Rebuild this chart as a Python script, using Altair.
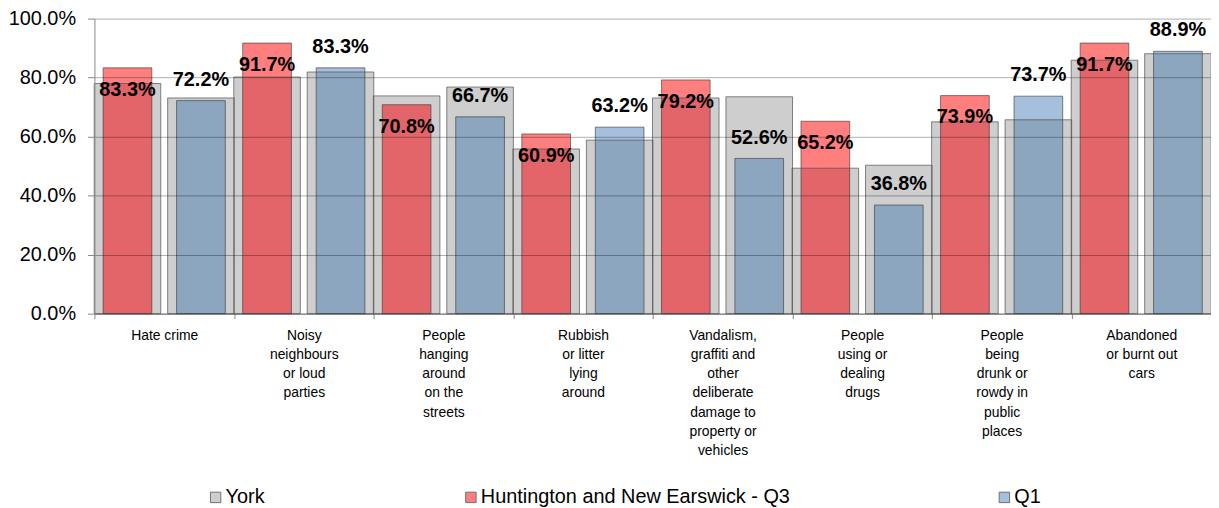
import altair as alt
import pandas as pd

# ---- data ----
categories = [
    "Hate crime",
    "Noisy|neighbours|or loud|parties",
    "People|hanging|around|on the|streets",
    "Rubbish|or litter|lying|around",
    "Vandalism,|graffiti and|other|deliberate|damage to|property or|vehicles",
    "People|using or|dealing|drugs",
    "People|being|drunk or|rowdy in|public|places",
    "Abandoned|or burnt out|cars",
]
q3_values = [83.3, 91.7, 70.8, 60.9, 79.2, 65.2, 73.9, 91.7]
q1_values = [72.2, 83.3, 66.7, 63.2, 52.6, 36.8, 73.7, 88.9]
york_behind_q3 = [78.0, 80.2, 73.8, 55.8, 73.1, 49.3, 65.0, 85.9]
york_behind_q1 = [73.1, 81.9, 76.8, 58.8, 73.5, 50.3, 65.7, 88.1]

york_name = "York"
q3_name = "Huntington and New Earswick - Q3"
q1_name = "Q1"

rows = []
for i, c in enumerate(categories):
    rows.append(dict(cat=c, slot="a", series=q3_name, value=q3_values[i], york=york_behind_q3[i]))
    rows.append(dict(cat=c, slot="b", series=q1_name, value=q1_values[i], york=york_behind_q1[i]))
df = pd.DataFrame(rows)

FONT = "Liberation Sans"

x_enc = alt.X(
    "cat:N",
    sort=categories,
    scale=alt.Scale(paddingInner=0, paddingOuter=0),
    axis=alt.Axis(
        title=None,
        labelExpr="split(datum.label, '|')",
        labelAngle=0,
        labelFont=FONT,
        labelFontSize=14,
        labelColor="#000",
        labelLineHeight=19.3,
        labelBaseline="top",
        labelPadding=10,
        labelLimit=200,
        tickBand="extent",
        tickSize=5,
        tickColor="#888",
        domainColor="#888",
        grid=False,
    ),
)
xoff_enc = alt.XOffset("slot:N", scale=alt.Scale(domain=["a", "b"], paddingInner=0.1, paddingOuter=0))

y_scale = alt.Scale(domain=[0, 100], nice=False)
y_axis = alt.Axis(
    title=None,
    values=[0, 20, 40, 60, 80, 100],
    labelExpr="format(datum.value, '.1f') + '%'",
    labelFont=FONT,
    labelFontSize=20,
    labelColor="#000",
    labelPadding=12,
    tickSize=7,
    tickColor="#888",
    domainColor="#888",
    gridColor="#000",
    gridOpacity=0.32,
    zindex=1,
)


def leg(x):
    return alt.Legend(
        orient="none", legendX=x, legendY=472, title=None,
        symbolType="square", symbolSize=110,
        symbolStrokeColor="#707070", symbolStrokeWidth=1,
        labelFont=FONT, labelFontSize=20, labelColor="#000",
        labelOffset=0, padding=0, labelLimit=800,
    )


base = alt.Chart(df).encode(x=x_enc, xOffset=xoff_enc)

york_fill = base.mark_bar(width=67).encode(
    y=alt.Y("york:Q", scale=y_scale, axis=y_axis),
    color=alt.Color("yname:N", scale=alt.Scale(domain=[york_name], range=["#cecece"]), legend=leg(112)),
).transform_calculate(yname=f"'{york_name}'")

red_light = base.mark_bar(width=49).encode(
    y=alt.Y("value:Q", scale=y_scale),
    color=alt.Color("series:N", scale=alt.Scale(domain=[q3_name], range=["#ff7f7f"]), legend=leg(369)),
).transform_filter("datum.slot == 'a'")

blue_light = base.mark_bar(width=49).encode(
    y=alt.Y("value:Q", scale=y_scale),
    color=alt.Color("series:N", scale=alt.Scale(domain=[q1_name], range=["#a6bfdd"]), legend=leg(906)),
).transform_filter("datum.slot == 'b'")

dark_part = base.mark_bar(width=49).encode(
    y=alt.Y("lo:Q", scale=y_scale),
    fill=alt.condition("datum.slot == 'a'", alt.value("#e46569"), alt.value("#8ca6c0")),
).transform_calculate(lo="min(datum.value, datum.york)")

col_outline = base.mark_bar(width=49, fillOpacity=0, fill="#ffffff", stroke="#404040",
                            strokeOpacity=0.65, strokeWidth=1).encode(
    y=alt.Y("value:Q", scale=y_scale),
)

york_outline = base.mark_bar(width=67, fillOpacity=0, fill="#ffffff", stroke="#505050",
                             strokeOpacity=0.7, strokeWidth=1).encode(
    y=alt.Y("york:Q", scale=y_scale),
)

lab_q3 = base.mark_text(font=FONT, fontSize=20, fontWeight="bold", color="#000", dy=22,
                        baseline="middle").encode(
    y=alt.Y("value:Q", scale=y_scale),
    text=alt.Text("lbl:N"),
).transform_filter("datum.slot == 'a'").transform_calculate(lbl="format(datum.value, '.1f') + '%'")

lab_q1 = base.mark_text(font=FONT, fontSize=20, fontWeight="bold", color="#000", dy=-21,
                        baseline="middle").encode(
    y=alt.Y("value:Q", scale=y_scale),
    text=alt.Text("lbl:N"),
).transform_filter("datum.slot == 'b'").transform_calculate(lbl="format(datum.value, '.1f') + '%'")

chart = alt.layer(
    york_fill, red_light, blue_light, dark_part, col_outline, york_outline, lab_q3, lab_q1
).resolve_scale(color="independent").properties(
    width=1124,
    height=297,
    autosize=alt.AutoSizeParams(type="none"),
    padding={"left": 87, "top": 9, "right": 0, "bottom": 194},
    background="#ffffff",
).configure_view(stroke=None)

chart.save("out.html", embed_options={"renderer": "svg", "actions": False})
